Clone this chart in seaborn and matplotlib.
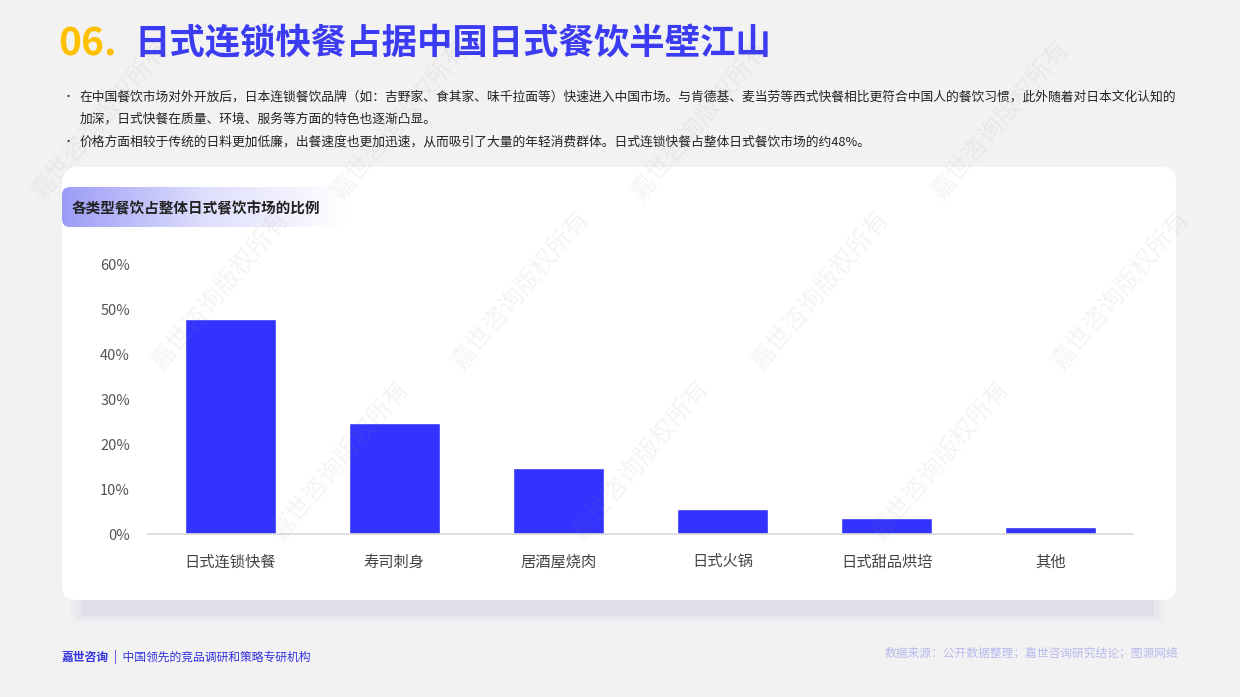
import numpy as np
import pandas as pd
import matplotlib
matplotlib.use("Agg")
import matplotlib.pyplot as plt
import seaborn as sns
from matplotlib.patches import FancyBboxPatch, Rectangle
from matplotlib.ticker import FuncFormatter, FixedLocator
from matplotlib.colors import LinearSegmentedColormap

# ---- data ----
categories = ["日式连锁快餐", "寿司刺身", "居酒屋烧肉", "日式火锅", "日式甜品烘培", "其他"]
shares = [48.0, 24.7, 14.7, 5.5, 3.5, 1.6]
y_ticks = [0, 10, 20, 30, 40, 50, 60]

title_num = "06."
title_text = "日式连锁快餐占据中国日式餐饮半壁江山"
bullets = [
    "在中国餐饮市场对外开放后，日本连锁餐饮品牌（如：吉野家、食其家、味千拉面等）快速进入中国市场。与肯德基、麦当劳等西式快餐相比更符合中国人的餐饮习惯，此外随着对日本文化认知的",
    "加深，日式快餐在质量、环境、服务等方面的特色也逐渐凸显。",
    "价格方面相较于传统的日料更加低廉，出餐速度也更加迅速，从而吸引了大量的年轻消费群体。日式连锁快餐占整体日式餐饮市场的约48%。",
]
chart_title = "各类型餐饮占整体日式餐饮市场的比例"
footer_brand = "嘉世咨询"
footer_left = "|  中国领先的竞品调研和策略专研机构"
footer_right = "数据来源：公开数据整理；嘉世咨询研究结论；图源网络"
watermark = "嘉世咨询版权所有"

sns.set_theme(style="white")
plt.rcParams["font.family"] = ["Noto Sans CJK SC", "DejaVu Sans"]

W, H = 1240, 697
fig = plt.figure(figsize=(W / 100, H / 100), dpi=100)
fig.patch.set_facecolor("#f2f2f2")

# background axes in pixel coordinates
bg = fig.add_axes([0, 0, 1, 1], zorder=0)
bg.set_xlim(0, W)
bg.set_ylim(H, 0)
bg.axis("off")

# card shadow
for a, pad in [(0.10, 14), (0.16, 9), (0.22, 4)]:
    bg.add_patch(Rectangle((85 - pad, 596), 1065 + 2 * pad, 18 + pad * 0.6,
                           facecolor="#c8c8e6", edgecolor="none", alpha=a))
# card
card = FancyBboxPatch((62, 167), 1114, 433, boxstyle="round,pad=0,rounding_size=14",
                      facecolor="white", edgecolor="none")
bg.add_patch(card)

# chart title gradient label
lab = FancyBboxPatch((62, 187), 285, 40, boxstyle="round,pad=0,rounding_size=8",
                     facecolor="none", edgecolor="none")
bg.add_patch(lab)
grad = np.linspace(0, 1, 256).reshape(1, -1)
cmap = LinearSegmentedColormap.from_list("g", ["#9c9cf7", "#dedefd", "#ffffff"])
im = bg.imshow(grad, extent=(62, 347, 227, 187), cmap=cmap, aspect="auto", zorder=1)
im.set_clip_path(lab)
bg.set_xlim(0, W)
bg.set_ylim(H, 0)
bg.text(72, 208, chart_title, fontsize=10.5, fontweight="bold", color="#222222",
        va="center", ha="left", zorder=2)

# title
bg.text(58, 44, title_num, fontsize=28, fontweight="bold", color="#FFC000",
        va="center", ha="left")
bg.text(134, 44, title_text, fontsize=25.5, fontweight="bold", color="#3b3bf2",
        va="center", ha="left")

# bullets
for y, txt, dot in [(97, bullets[0], True), (119, bullets[1], False), (142, bullets[2], True)]:
    if dot:
        bg.text(63, y, "•", fontsize=8, color="#333333", va="center", ha="left")
    bg.text(80, y, txt, fontsize=9.2, color="#222222", va="center", ha="left")

# footer
bg.text(62, 657, footer_brand, fontsize=8.5, fontweight="bold", color="#3333dd",
        va="center", ha="left")
bg.text(114, 657, footer_left, fontsize=8.5, color="#3333dd", va="center", ha="left")
bg.text(1178, 653, footer_right, fontsize=8.5, color="#b9b9ee", va="center", ha="right")

# ---- chart ----
ax = fig.add_axes([148 / W, 1 - 534 / H, (1133 - 148) / W, (534 - 265) / H], zorder=1)
ax.set_facecolor("none")
df = pd.DataFrame({"category": categories, "share": shares})
sns.barplot(data=df, x="category", y="share", color="#3333ff", width=0.555,
            saturation=1, ax=ax)
ax.set_ylim(0, 60)
ax.set_xlim(-0.5, len(categories) - 0.5)
ax.yaxis.set_major_locator(FixedLocator(y_ticks))
ax.yaxis.set_major_formatter(FuncFormatter(lambda v, p: f"{int(v)}%"))
ax.set_xlabel("")
ax.set_ylabel("")
for s in ["top", "right", "left"]:
    ax.spines[s].set_visible(False)
ax.spines["bottom"].set_color("#d9d9d9")
ax.spines["bottom"].set_linewidth(1.2)
ax.tick_params(axis="y", length=0, pad=13, labelsize=10.5, labelcolor="#555555")
ax.tick_params(axis="x", which="major", length=0, pad=14, labelsize=11, labelcolor="#444444")
ax.set_xticks(np.arange(-0.5, len(categories)), minor=True)
ax.tick_params(axis="x", which="minor", length=6, color="#d9d9d9", width=1, direction="out")
ax.grid(False)

# watermarks (kept fully inside the canvas)
for row, yy in enumerate(range(120, 640, 170)):
    for xx in range(-200, 1400, 300):
        x = xx + row * 120
        if 90 <= x <= W - 90 and 90 <= yy <= H - 80:
            fig.text(x / W, 1 - yy / H, watermark, fontsize=18, color="#888888", alpha=0.09,
                     rotation=50, ha="center", va="center", zorder=5)

fig.savefig("out.png", dpi=100, facecolor=fig.get_facecolor())
